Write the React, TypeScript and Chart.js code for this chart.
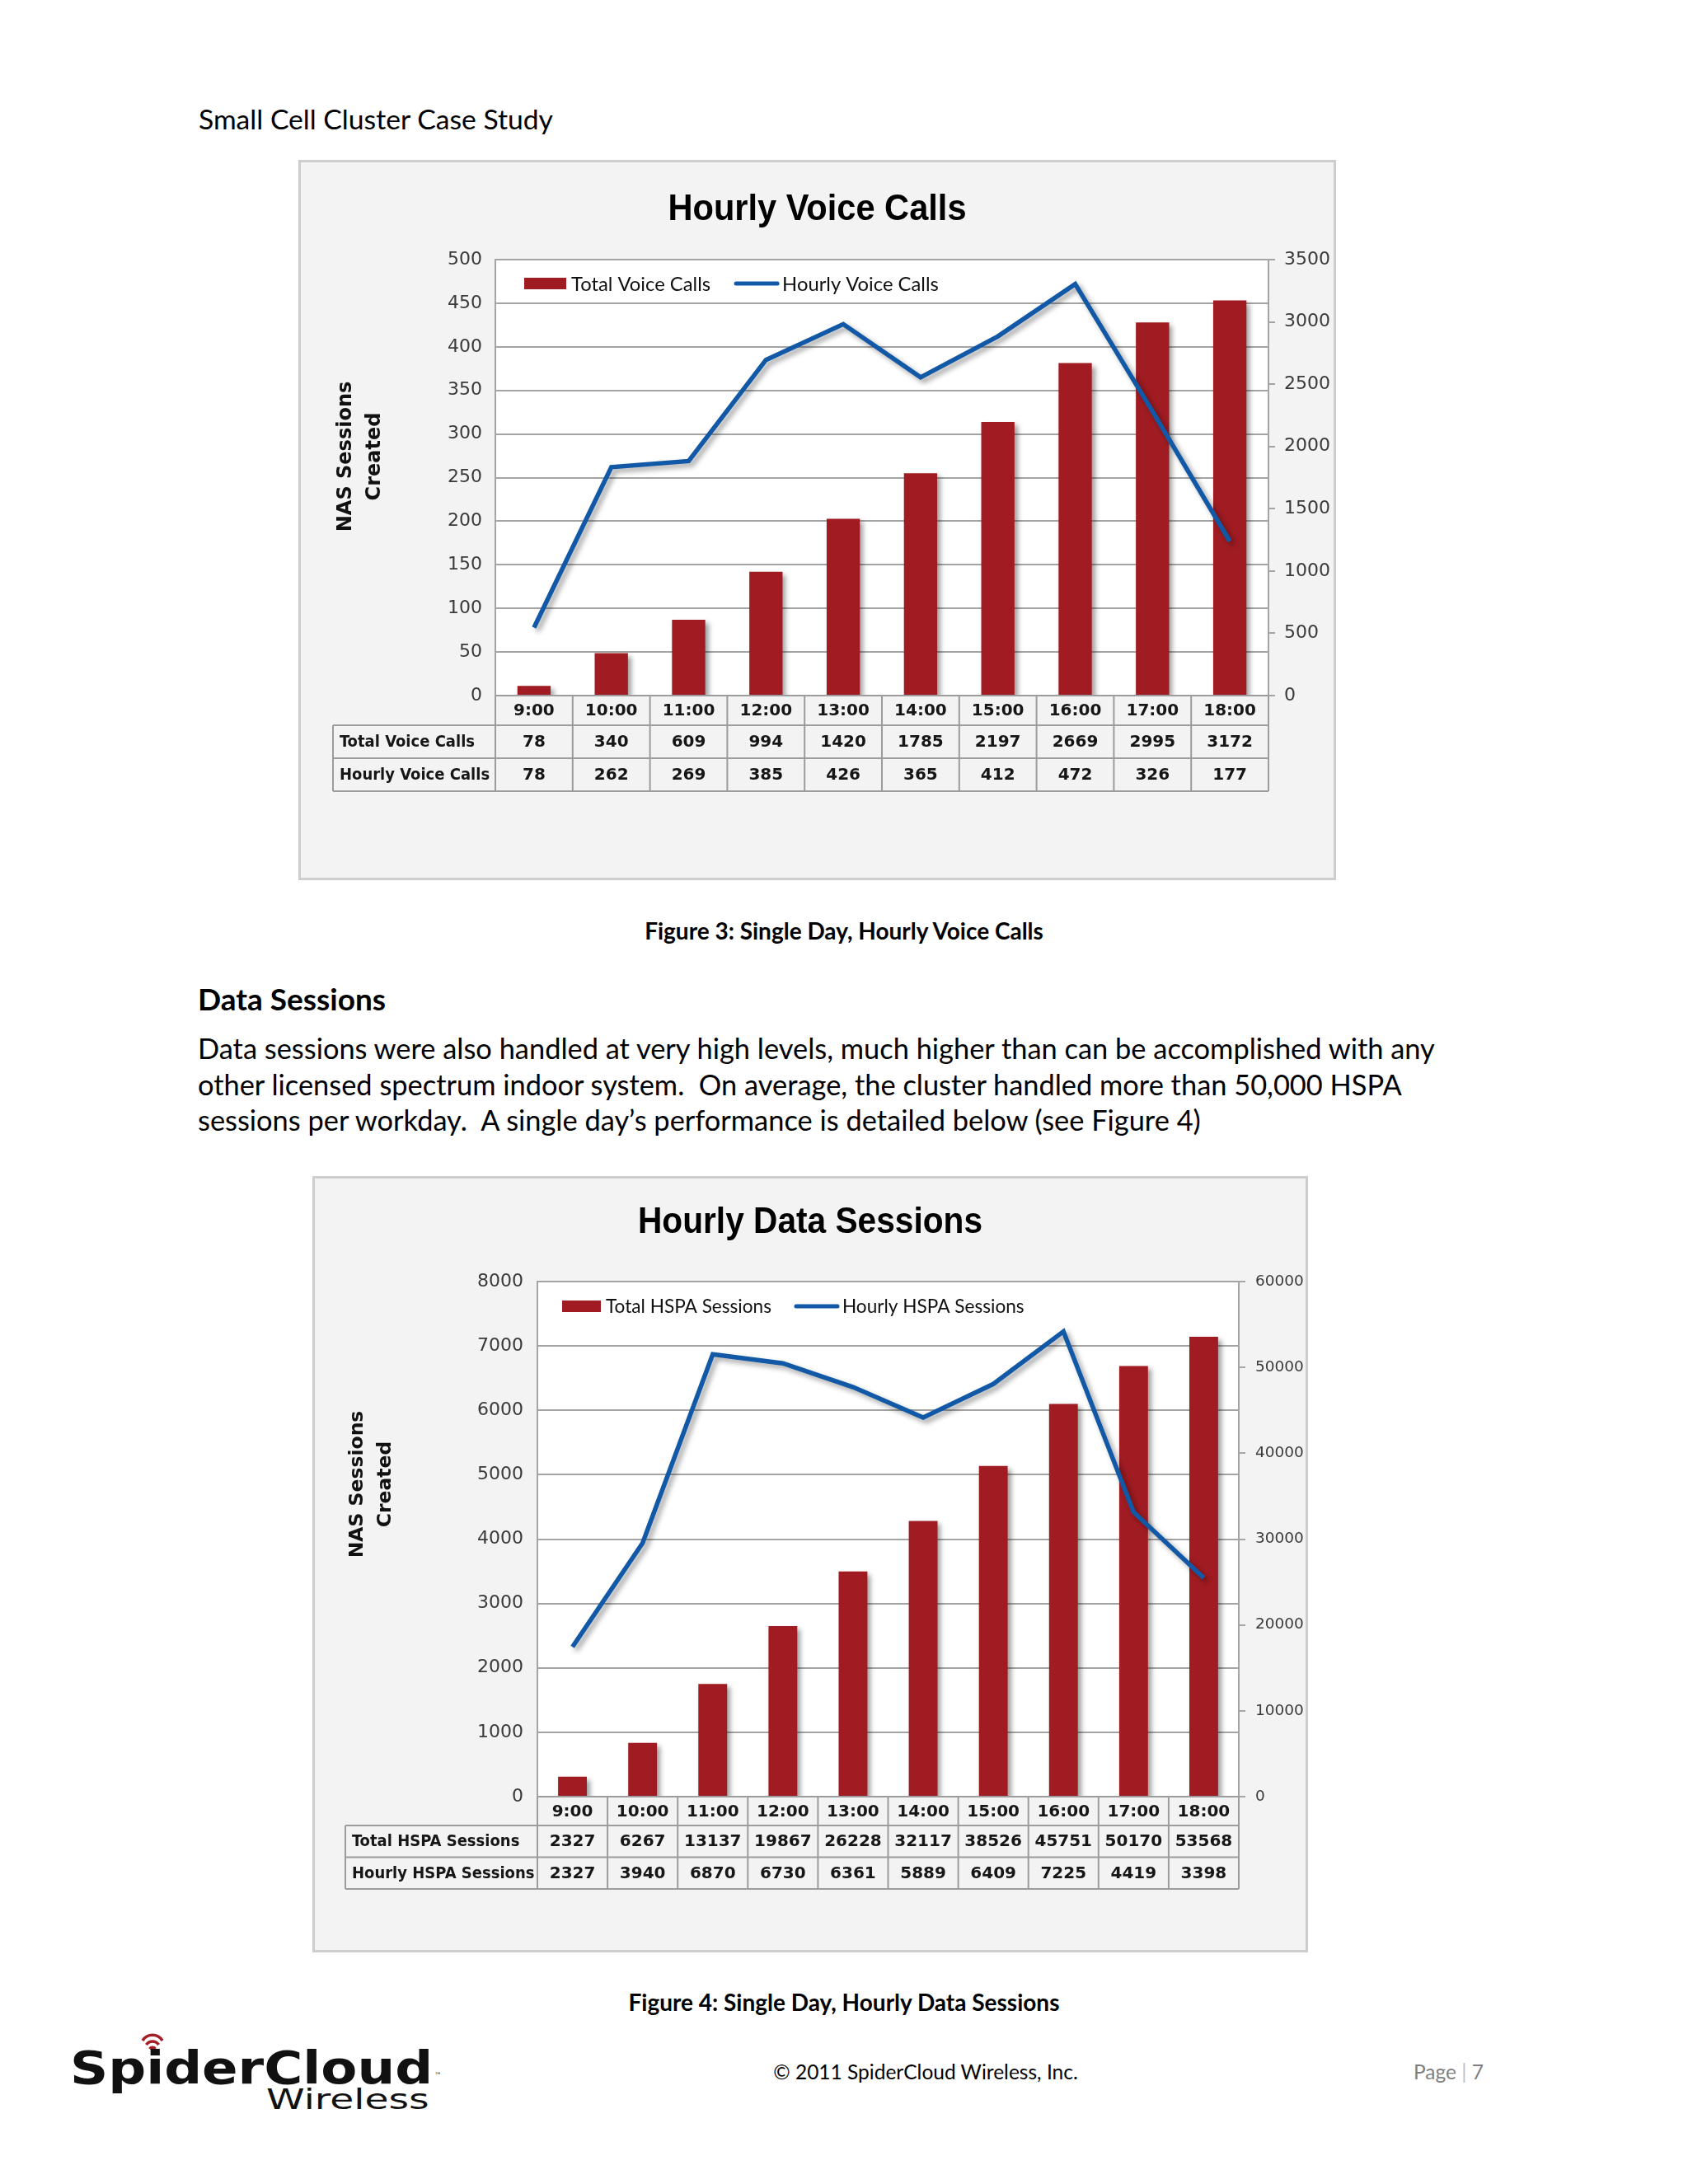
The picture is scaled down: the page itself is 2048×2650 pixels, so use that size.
import React, { useEffect, useRef } from 'react';
import { Chart, registerables } from 'chart.js';

Chart.register(...registerables);

// ---------- data ----------
const hourLabels = ['9:00', '10:00', '11:00', '12:00', '13:00', '14:00', '15:00', '16:00', '17:00', '18:00'];
const totalVoiceCalls = [78, 340, 609, 994, 1420, 1785, 2197, 2669, 2995, 3172];
const hourlyVoiceCalls = [78, 262, 269, 385, 426, 365, 412, 472, 326, 177];
const totalHspaSessions = [2327, 6267, 13137, 19867, 26228, 32117, 38526, 45751, 50170, 53568];
const hourlyHspaSessions = [2327, 3940, 6870, 6730, 6361, 5889, 6409, 7225, 4419, 3398];
const voiceLeftRange = [0, 500, 50];
const voiceRightRange = [0, 3500, 500];
const dataLeftRange = [0, 8000, 1000];
const dataRightRange = [0, 60000, 10000];
const yAxisTitle = ['NAS Sessions', 'Created'];

// ---------- styles ----------
const BAR = '#A01C22';
const LINE = '#1158A6';
const GRID = '#A4A4A4';
const TICK_COLOR = '#3A3A3A';
const TICK_FAMILY = '"DejaVu Sans", sans-serif';
const TABLE_LABEL_FONT = 'bold 20px "DejaVu Sans Condensed", "DejaVu Sans", sans-serif';
const TABLE_NUM_FONT = 'bold 20px "DejaVu Sans", sans-serif';
const LEGEND_FAMILY = 'Lato, "Open Sans", sans-serif';
const TITLE_FONT = 'bold 44px "Liberation Sans", Arial, sans-serif';
const BODY_FONT = 'Lato, "Open Sans", sans-serif';

type Spec = {
  title: string;
  labels: string[];
  barLabel: string;
  barData: number[];
  lineLabel: string;
  lineData: number[];
  left: number[];
  right: number[];
};

type Layout = {
  x: number; y: number; w: number; h: number;
  leftW: number; rightW: number; padTop: number; padBottom: number;
  titleY: number; titleW: number;
  leftTickSize: number; rightTickSize: number; leftPad: number; rightPad: number;
  barPct: number;
  legendX: number; legendY: number; legendBoxW: number; legendGap: number; legendSize: number;
  tableLeft: number; headH: number; rowH: number;
  yTitleX: number[]; yTitleY: number; yTitleSize: number;
};

function makeConfig(s: Spec, L: Layout): any {
  const frame = {
    id: 'frame',
    beforeDraw(chart: any) {
      const { ctx, width, height, chartArea } = chart;
      ctx.save();
      ctx.fillStyle = '#F3F3F3';
      ctx.fillRect(0, 0, width, height);
      ctx.strokeStyle = '#CDCDCD';
      ctx.lineWidth = 3;
      ctx.strokeRect(1.5, 1.5, width - 3, height - 3);
      ctx.fillStyle = '#FFFFFF';
      ctx.fillRect(chartArea.left, chartArea.top, chartArea.right - chartArea.left, chartArea.bottom - chartArea.top);
      // chart title (horizontally condensed)
      ctx.font = TITLE_FONT;
      ctx.fillStyle = '#000';
      ctx.textAlign = 'center';
      ctx.textBaseline = 'middle';
      const tw = ctx.measureText(s.title).width;
      ctx.translate(width / 2, L.titleY);
      ctx.scale(L.titleW / tw, 1);
      ctx.fillText(s.title, 0, 0);
      ctx.restore();
    },
  };
  const shadow = {
    id: 'shadow',
    beforeDatasetDraw(chart: any) {
      const ctx = chart.ctx;
      ctx.save();
      ctx.shadowColor = 'rgba(0,0,0,0.38)';
      ctx.shadowBlur = 6;
      ctx.shadowOffsetX = 4;
      ctx.shadowOffsetY = 4;
    },
    afterDatasetDraw(chart: any) {
      chart.ctx.restore();
    },
  };
  const overlay = {
    id: 'overlay',
    afterDraw(chart: any) {
      const { ctx, chartArea } = chart;
      const xs = chart.scales.x;
      const n = s.labels.length;
      const colW = (chartArea.right - chartArea.left) / n;
      ctx.save();

      // legend
      const ly = chartArea.top + L.legendY;
      let lx = chartArea.left + L.legendX;
      ctx.fillStyle = BAR;
      ctx.fillRect(lx, ly - 7, L.legendBoxW, 14);
      ctx.font = `${L.legendSize}px ${LEGEND_FAMILY}`;
      ctx.fillStyle = '#111';
      ctx.textBaseline = 'middle';
      ctx.textAlign = 'left';
      lx += L.legendBoxW + 6;
      ctx.fillText(s.barLabel, lx, ly + 1);
      lx += ctx.measureText(s.barLabel).width + L.legendGap;
      ctx.strokeStyle = LINE;
      ctx.lineWidth = 5;
      ctx.lineCap = 'round';
      ctx.beginPath();
      ctx.moveTo(lx + 2, ly);
      ctx.lineTo(lx + 52, ly);
      ctx.stroke();
      ctx.lineCap = 'butt';
      ctx.fillText(s.lineLabel, lx + 58, ly + 1);

      // data table
      const top = chartArea.bottom;
      const r0 = top + L.headH;
      const r1 = r0 + L.rowH;
      const r2 = r1 + L.rowH;
      ctx.strokeStyle = '#9C9C9C';
      ctx.lineWidth = 2;
      ctx.beginPath();
      ctx.moveTo(chartArea.left, top); ctx.lineTo(chartArea.right, top);
      [r0, r1, r2].forEach((yy) => { ctx.moveTo(L.tableLeft, yy); ctx.lineTo(chartArea.right, yy); });
      ctx.moveTo(L.tableLeft, r0); ctx.lineTo(L.tableLeft, r2);
      for (let i = 0; i <= n; i++) {
        const xx = chartArea.left + i * colW;
        ctx.moveTo(xx, top); ctx.lineTo(xx, r2);
      }
      ctx.stroke();
      ctx.font = TABLE_NUM_FONT;
      ctx.fillStyle = '#161616';
      ctx.textAlign = 'center';
      for (let i = 0; i < n; i++) {
        const cx = xs.getPixelForValue(i);
        ctx.fillText(s.labels[i], cx, (top + r0) / 2 + 1);
        ctx.fillText(String(s.barData[i]), cx, (r0 + r1) / 2 + 1);
        ctx.fillText(String(s.lineData[i]), cx, (r1 + r2) / 2 + 1);
      }
      ctx.font = TABLE_LABEL_FONT;
      ctx.textAlign = 'left';
      ctx.fillText(s.barLabel, L.tableLeft + 8, (r0 + r1) / 2 + 1);
      ctx.fillText(s.lineLabel, L.tableLeft + 8, (r1 + r2) / 2 + 1);

      // rotated y-axis title
      ctx.font = `bold ${L.yTitleSize}px "DejaVu Sans", sans-serif`;
      ctx.fillStyle = '#111';
      ctx.textAlign = 'center';
      yAxisTitle.forEach((t, k) => {
        ctx.save();
        ctx.translate(L.yTitleX[k], L.yTitleY);
        ctx.rotate(-Math.PI / 2);
        ctx.fillText(t, 0, 0);
        ctx.restore();
      });
      ctx.restore();
    },
  };

  const plain = (v: any) => String(v);

  return {
    type: 'bar',
    data: {
      labels: s.labels,
      datasets: [
        {
          type: 'bar', label: s.barLabel, data: s.barData, yAxisID: 'y1',
          backgroundColor: BAR, borderWidth: 0, barPercentage: L.barPct, categoryPercentage: 1, order: 1,
        },
        {
          type: 'line', label: s.lineLabel, data: s.lineData, yAxisID: 'y',
          borderColor: LINE, backgroundColor: LINE, borderWidth: 5.5, pointRadius: 0, pointHoverRadius: 0,
          tension: 0, fill: false, order: 0,
        },
      ],
    },
    options: {
      responsive: false,
      animation: false,
      devicePixelRatio: 1,
      events: [],
      layout: { padding: { left: 0, right: 0, top: L.padTop, bottom: L.padBottom } },
      plugins: {
        legend: { display: false },
        tooltip: { enabled: false },
        title: { display: false },
      },
      scales: {
        x: { display: false, offset: true, grid: { display: false } },
        y: {
          position: 'left', min: s.left[0], max: s.left[1],
          ticks: { stepSize: s.left[2], padding: L.leftPad, color: TICK_COLOR, font: { family: TICK_FAMILY, size: L.leftTickSize }, callback: plain },
          grid: { color: GRID, lineWidth: 2, drawTicks: false },
          border: { display: true, color: GRID, width: 2 },
          afterFit: (sc: any) => { sc.width = L.leftW; },
        },
        y1: {
          position: 'right', min: s.right[0], max: s.right[1],
          ticks: { stepSize: s.right[2], padding: L.rightPad, color: TICK_COLOR, font: { family: TICK_FAMILY, size: L.rightTickSize }, callback: plain },
          grid: { drawOnChartArea: false, drawTicks: true, tickLength: 8, color: GRID, lineWidth: 2 },
          border: { display: true, color: GRID, width: 2 },
          afterFit: (sc: any) => { sc.width = L.rightW; },
        },
      },
    },
    plugins: [frame, shadow, overlay],
  };
}

function ChartBox({ spec, layout }: { spec: Spec; layout: Layout }) {
  const ref = useRef<HTMLCanvasElement | null>(null);
  useEffect(() => {
    if (!ref.current) return;
    const chart = new Chart(ref.current, makeConfig(spec, layout));
    return () => chart.destroy();
  }, []);
  return (
    <canvas
      ref={ref}
      width={layout.w}
      height={layout.h}
      style={{ position: 'absolute', left: layout.x, top: layout.y, width: layout.w, height: layout.h }}
    />
  );
}

const voiceSpec: Spec = {
  title: 'Hourly Voice Calls',
  labels: hourLabels,
  barLabel: 'Total Voice Calls',
  barData: totalVoiceCalls,
  lineLabel: 'Hourly Voice Calls',
  lineData: hourlyVoiceCalls,
  left: voiceLeftRange,
  right: voiceRightRange,
};

const dataSpec: Spec = {
  title: 'Hourly Data Sessions',
  labels: hourLabels,
  barLabel: 'Total HSPA Sessions',
  barData: totalHspaSessions,
  lineLabel: 'Hourly HSPA Sessions',
  lineData: hourlyHspaSessions,
  left: dataLeftRange,
  right: dataRightRange,
};

const voiceLayout: Layout = {
  x: 362, y: 194, w: 1259, h: 874,
  leftW: 239, rightW: 82, padTop: 121, padBottom: 224,
  titleY: 61, titleW: 362,
  leftTickSize: 22, rightTickSize: 22, leftPad: 16, rightPad: 11,
  barPct: 0.43,
  legendX: 35, legendY: 29, legendBoxW: 51, legendGap: 29, legendSize: 23.8,
  tableLeft: 42, headH: 36, rowH: 40,
  yTitleX: [58, 93], yTitleY: 360, yTitleSize: 24,
};

const dataLayout: Layout = {
  x: 379, y: 1427, w: 1208, h: 942,
  leftW: 273, rightW: 84, padTop: 128, padBottom: 189,
  titleY: 57, titleW: 418,
  leftTickSize: 22, rightTickSize: 18.5, leftPad: 17, rightPad: 12,
  barPct: 0.41,
  legendX: 30, legendY: 30, legendBoxW: 47, legendGap: 28, legendSize: 22.6,
  tableLeft: 40, headH: 35, rowH: 38.5,
  yTitleX: [55, 89], yTitleY: 374, yTitleSize: 23.5,
};

function T({ x, y, size, bold, color, children, w, align }: any) {
  return (
    <div
      style={{
        position: 'absolute', left: x, top: y, width: w, textAlign: align || 'left',
        fontFamily: BODY_FONT, fontSize: size, fontWeight: bold ? 700 : 400, lineHeight: 1.2,
        color: color || '#000', whiteSpace: 'pre', margin: 0,
      }}
    >
      {children}
    </div>
  );
}

export default function App() {
  return (
    <div style={{ position: 'absolute', left: 0, top: 0, width: 2048, height: 2650, background: '#fff', overflow: 'hidden' }}>
      <T x={241} y={124} size={33.7}>Small Cell Cluster Case Study</T>

      <ChartBox spec={voiceSpec} layout={voiceLayout} />

      <T x={0} w={2048} align="center" y={1113} size={28} bold>Figure 3: Single Day, Hourly Voice Calls</T>

      <T x={240} y={1190} size={37} bold>Data Sessions</T>
      <T x={240} y={1251} size={34.4}>Data sessions were also handled at very high levels, much higher than can be accomplished with any</T>
      <T x={240} y={1295} size={34.4}>other licensed spectrum indoor system.  On average, the cluster handled more than 50,000 HSPA</T>
      <T x={240} y={1338} size={34.4}>sessions per workday.  A single day’s performance is detailed below (see Figure 4)</T>

      <ChartBox spec={dataSpec} layout={dataLayout} />

      <T x={0} w={2048} align="center" y={2413} size={28} bold>Figure 4: Single Day, Hourly Data Sessions</T>

      {/* footer logo */}
      <svg style={{ position: 'absolute', left: 168, top: 2466 }} width={34} height={24} viewBox="0 0 34 24">
        <path d="M5 10 A14 14 0 0 1 29 10" fill="none" stroke="#A31F24" strokeWidth={3.5} />
        <path d="M9.5 15 A9 9 0 0 1 24.5 15" fill="none" stroke="#A31F24" strokeWidth={3.5} />
        <path d="M13.5 20 A4.5 4.5 0 0 1 20.5 20" fill="none" stroke="#A31F24" strokeWidth={3.5} />
      </svg>
      <div
        style={{
          position: 'absolute', left: 85, top: 2481, fontFamily: '"DejaVu Sans", sans-serif', fontWeight: 700,
          fontSize: 56, lineHeight: 1, whiteSpace: 'pre', transform: 'scaleX(1.146)', transformOrigin: 'left top', color: '#111',
        }}
      >
        SpiderCloud
      </div>
      <div style={{ position: 'absolute', left: 527, top: 2514, fontFamily: '"DejaVu Sans", sans-serif', fontSize: 9, lineHeight: 1, color: '#333' }}>™</div>
      <div
        style={{
          position: 'absolute', left: 323, top: 2530, fontFamily: '"DejaVu Sans", sans-serif', fontWeight: 400,
          fontSize: 34, lineHeight: 1, whiteSpace: 'pre', transform: 'scaleX(1.39)', transformOrigin: 'left top', color: '#111',
        }}
      >
        Wireless
      </div>

      <T x={823} w={600} align="center" y={2499} size={24.5}>© 2011 SpiderCloud Wireless, Inc.</T>
      <T x={1715} y={2499} size={24.5} color="#7F7F7F">
        Page <span style={{ color: '#BFBFBF' }}>|</span> 7
      </T>
    </div>
  );
}
